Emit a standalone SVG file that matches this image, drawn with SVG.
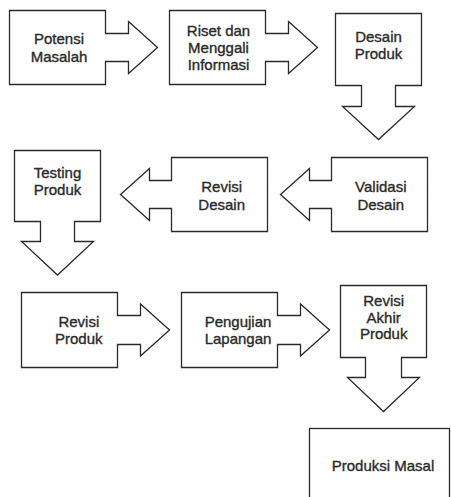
<svg xmlns="http://www.w3.org/2000/svg" width="451" height="497" viewBox="0 0 451 497">
<style>
.s{fill:#fff;stroke:#2a2a2a;stroke-width:1.3;stroke-linejoin:miter}
.t{font-family:"Liberation Sans",Arial,sans-serif;font-size:15px;fill:#2a2a2a;stroke:#2a2a2a;stroke-width:0.35;text-anchor:middle}
</style>
<rect width="451" height="497" fill="#fff"/>
<g id="connectors"></g>
<g id="potensi-masalah">
<path class="s" d="M9.5,10.5 H105.5 V33.5 H128.5 V21.5 L157.5,47.5 L128.5,73.5 V61.5 H105.5 V84.5 H9.5 Z"/>
<text class="t" x="59" y="44">Potensi</text>
<text class="t" x="59" y="61.7">Masalah</text>
</g>
<g id="riset">
<path class="s" d="M169.5,10.5 H265.5 V33.5 H288.5 V21.5 L317.5,47.5 L288.5,73.5 V61.5 H265.5 V84.5 H169.5 Z"/>
<text class="t" x="218.5" y="36">Riset dan</text>
<text class="t" x="218.5" y="53">Menggali</text>
<text class="t" x="218.5" y="70">Informasi</text>
</g>
<g id="desain-produk">
<path class="s" d="M335.5,13.5 H421.5 V85.5 H395.5 V106.5 H414.5 L378.5,139.5 L342.5,106.5 H361.5 V85.5 H335.5 Z"/>
<text class="t" x="378.5" y="42.3">Desain</text>
<text class="t" x="378.5" y="59">Produk</text>
</g>
<g id="testing-produk">
<path class="s" d="M14.5,150.5 H100.5 V221.5 H74.5 V241.5 H93.5 L57.5,275 L21.5,241.5 H40.5 V221.5 H14.5 Z"/>
<text class="t" x="57.5" y="178.3">Testing</text>
<text class="t" x="57.5" y="195">Produk</text>
</g>
<g id="revisi-desain">
<path class="s" d="M267.5,157.5 V231.5 H171.5 V208.5 H149.5 V220.5 L120.5,194.5 L149.5,168.5 V180.5 H171.5 V157.5 Z"/>
<text class="t" x="221.7" y="192.3">Revisi</text>
<text class="t" x="221.7" y="210">Desain</text>
</g>
<g id="validasi-desain">
<path class="s" d="M427.5,157.5 V231.5 H331.5 V208.5 H309.5 V220.5 L280.5,194.5 L309.5,168.5 V180.5 H331.5 V157.5 Z"/>
<text class="t" x="380.8" y="192.3">Validasi</text>
<text class="t" x="380.8" y="210">Desain</text>
</g>
<g id="revisi-produk">
<path class="s" d="M21.5,292.5 H117.5 V315.5 H140.5 V304 L169.5,330 L140.5,356 V344.5 H117.5 V367.5 H21.5 Z"/>
<text class="t" x="78.8" y="326.7">Revisi</text>
<text class="t" x="78.8" y="344.3">Produk</text>
</g>
<g id="pengujian-lapangan">
<path class="s" d="M181.5,292.5 H277.5 V315.5 H300.5 V304 L329.5,330 L300.5,356 V344.5 H277.5 V367.5 H181.5 Z"/>
<text class="t" x="238" y="326.7">Pengujian</text>
<text class="t" x="238" y="344.3">Lapangan</text>
</g>
<g id="revisi-akhir-produk">
<path class="s" d="M340.5,285.5 H426.5 V357.5 H401.5 V377.5 H419.5 L383.5,411.5 L347.5,377.5 H365.5 V357.5 H340.5 Z"/>
<text class="t" x="383.7" y="305.7">Revisi</text>
<text class="t" x="383.7" y="322.5">Akhir</text>
<text class="t" x="383.7" y="339.3">Produk</text>
</g>
<g id="produksi-masal">
<rect class="s" x="309.5" y="428.5" width="140" height="80"/>
<text class="t" x="383" y="471">Produksi Masal</text>
</g>
</svg>
